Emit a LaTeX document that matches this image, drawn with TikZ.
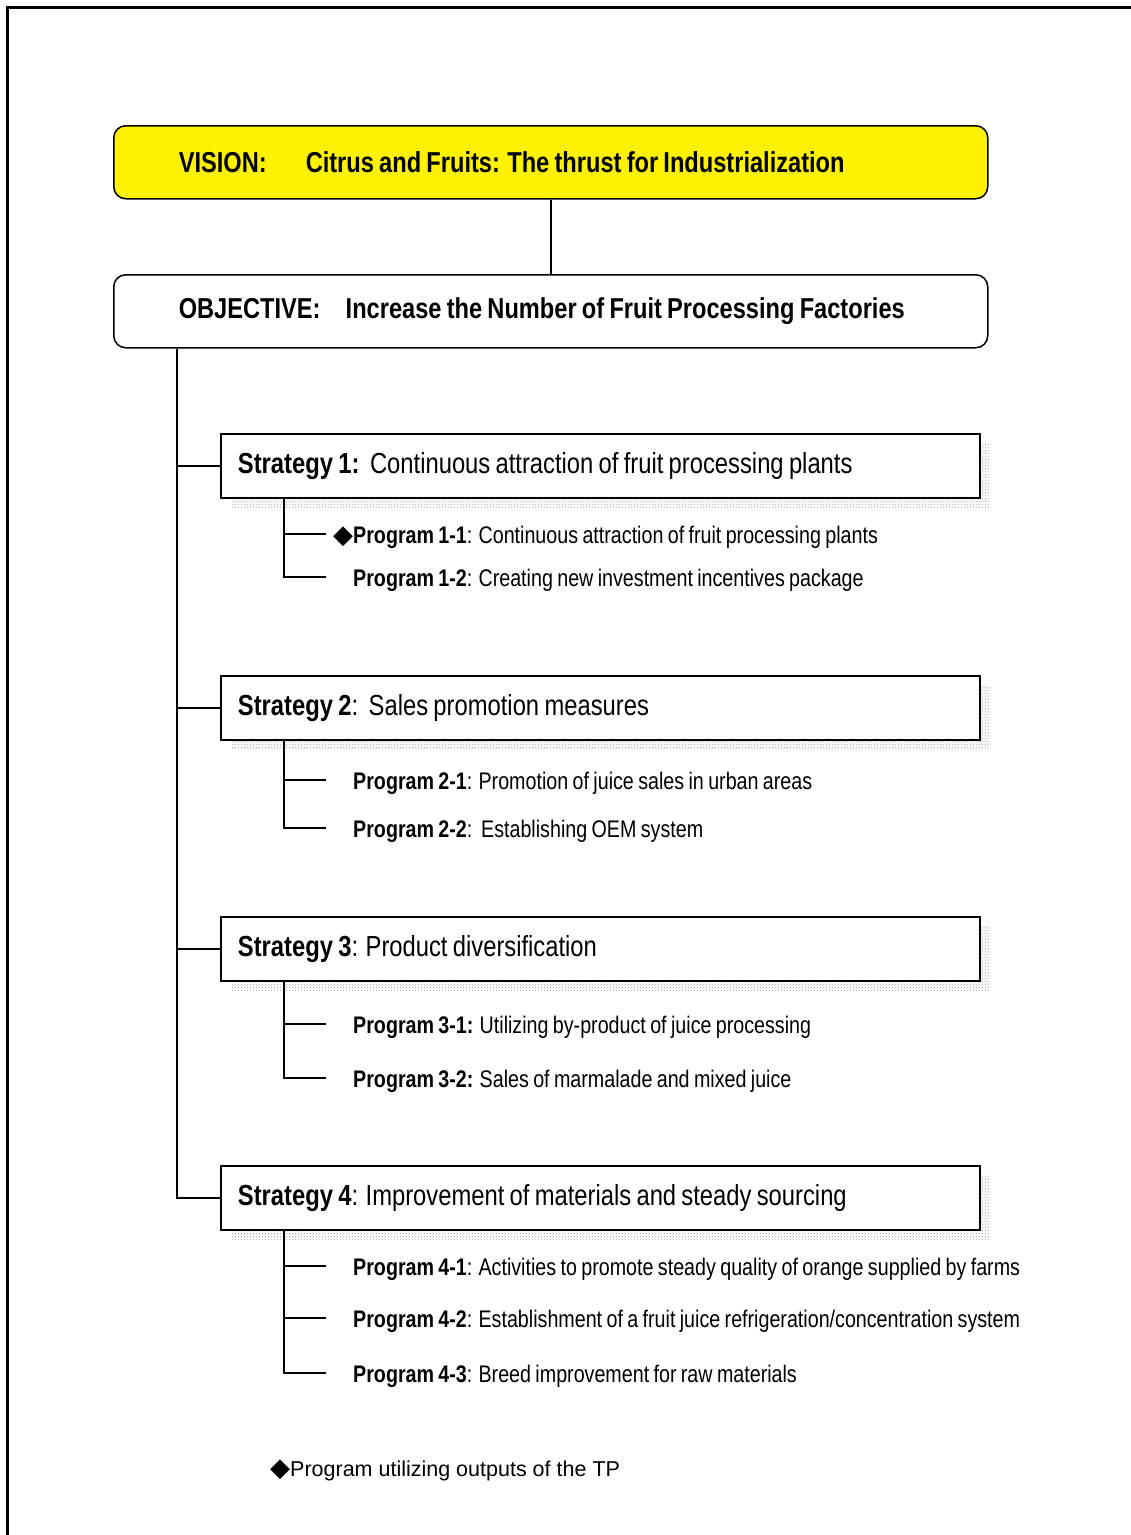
\documentclass[tikz,border=0pt]{standalone}
\usepackage{fontspec}
\setmainfont{Liberation Sans}[FakeStretch=0.82,WordSpace=0.8]
\newfontfamily\widefont{Liberation Sans}
\newfontfamily\symbfont{DejaVu Sans}
\usetikzlibrary{positioning, calc}
\usetikzlibrary{patterns}

\newcommand{\dmd}{{\symbfont\fontsize{26}{26}\selectfont\char"25C6}}

\begin{document}
\begin{tikzpicture}[x=1pt,y=-1pt]
  \tikzstyle{topbox}=[draw,line width=1.5pt,rounded corners=12pt,minimum width=874pt,minimum height=73pt,
    inner xsep=65pt,anchor=north west,font=\fontsize{28.8}{32}\selectfont\bfseries]
  \tikzstyle{stratbox}=[draw,line width=1.8pt,fill=white,minimum width=759pt,minimum height=64pt,
    inner xsep=17pt,anchor=north west,font=\fontsize{29}{33}\selectfont]
  \tikzstyle{shade}=[pattern=crosshatch dots,pattern color=gray!70]
  \tikzstyle{prog}=[anchor=west,inner sep=0pt,font=\fontsize{24}{28}\selectfont]
  \tikzstyle{link}=[line width=1.5pt]

  \useasboundingbox (0,0) rectangle (1131,1535);
  % FRAME
  \draw[line width=3pt] (7,1535) -- (7,7) -- (1131,7);

  % VISION AND OBJECTIVE
  \node[topbox,fill=yellow] (vision) at (113,125)
    {\makebox[744pt][l]{\makebox[127pt][l]{VISION:}Citrus and Fruits: The thrust for Industrialization}};
  \node[topbox,fill=white] (objective) at (113,274)
    {\makebox[744pt][l]{\makebox[167pt][l]{OBJECTIVE:}Increase the Number of Fruit Processing Factories}};
  \draw[link] (vision) -- (objective);

  % STRATEGIES
  \foreach \i/\y/\txt in {1/433/{\textbf{Strategy 1:}\ \ Continuous attraction of fruit processing plants},
                          2/675/{\textbf{Strategy 2}:\ \ Sales promotion measures},
                          3/916/{\textbf{Strategy 3}: Product diversification},
                          4/1165/{\textbf{Strategy 4}: Improvement of materials and steady sourcing}}{
      \fill[shade] (232,\y+10) rectangle (989,\y+74);
      \node[stratbox] (s\i) at (220,\y) {\makebox[725pt][l]{\txt}};
    }
  \coordinate (trunk) at ($(objective.south west)+(64,0)$);
  \draw[link] (trunk) |- (s4.west);
  \foreach \i in {1,2,3}{
      \draw[link] (trunk |- s\i.west) -- (s\i.west);
    }

  % PROGRAMS
  \foreach \s/\j/\y/\txt in {1/1/537/{\llap{\dmd}\textbf{Program 1-1}: Continuous attraction of fruit processing plants},
                             1/2/580/{\textbf{Program 1-2}: Creating new investment incentives package},
                             2/1/783/{\textbf{Program 2-1}: Promotion of juice sales in urban areas},
                             2/2/831/{\textbf{Program 2-2}:\ \ Establishing OEM system},
                             3/1/1027/{\textbf{Program 3-1:} Utilizing by-product of juice processing},
                             3/2/1081/{\textbf{Program 3-2:} Sales of marmalade and mixed juice},
                             4/1/1269/{\textbf{Program 4-1}: Activities to promote steady quality of orange supplied by farms},
                             4/2/1321/{\textbf{Program 4-2}: Establishment of a fruit juice refrigeration/concentration system},
                             4/3/1376/{\textbf{Program 4-3}: Breed improvement for raw materials}}{
      \node[prog] (p\s\j) at (353,\y) {\txt};
      \coordinate (e\s\j) at (326,\y-3);
    }
  \foreach \s/\last in {1/2,2/2,3/2,4/3}{
      \draw[link] (s\s.south -| 284,0) |- (e\s\last);
    }
  \foreach \s/\j in {1/1,2/1,3/1,4/1,4/2}{
      \draw[link] (e\s\j -| 284,0) -- (e\s\j);
    }

  % NOTE
  \node[anchor=west,inner sep=0pt,font=\fontsize{21.5}{25}\selectfont\widefont] (note) at (270,1470)
    {\dmd Program utilizing outputs of the TP};
\end{tikzpicture}
\end{document}
